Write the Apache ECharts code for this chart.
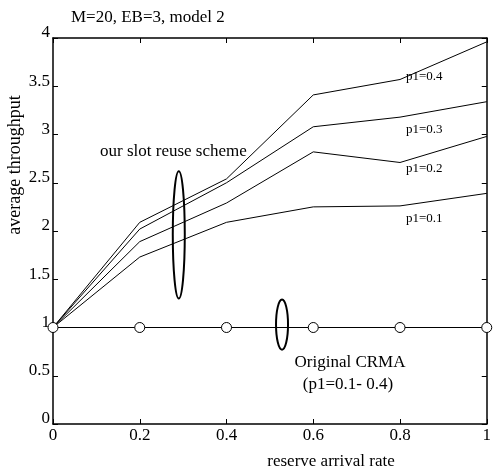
<!DOCTYPE html>
<html>
<head>
<meta charset="utf-8">
<script src="https://cdn.jsdelivr.net/npm/echarts@6/dist/echarts.min.js"></script>
<style>
  html, body { margin: 0; padding: 0; background: #fff; }
  #chart { width: 494px; height: 476px; }
</style>
</head>
<body>
<div id="chart"></div>
<script>
"use strict";
// reserve arrival rate
let xValues = [0, 0.2, 0.4, 0.6, 0.8, 1];
// average throughput, our slot reuse scheme
let p04 = [1, 2.09, 2.54, 3.41, 3.57, 3.96];
let p03 = [1, 2.02, 2.50, 3.08, 3.18, 3.34];
let p02 = [1, 1.89, 2.29, 2.82, 2.71, 2.98];
let p01 = [1, 1.73, 2.09, 2.25, 2.26, 2.39];
// original CRMA (p1=0.1-0.4)
let crma = [1, 1, 1, 1, 1, 1];
// ellipses: [x center, y top, y bottom]
let ellipses = [[0.29, 2.62, 1.30], [0.528, 1.29, 0.77]];

let serif = "Liberation Serif";
let pairs = arr => arr.map((v, i) => [xValues[i], v]);

let lineSeries = (name, arr) => ({
    type: "line",
    name: name,
    data: pairs(arr),
    symbol: "none",
    lineStyle: { color: "#000", width: 1 },
    animation: false,
    z: 3
});

/*box axes: ticks inside on all four sides*/
let boxLine = { show: true, onZero: false, lineStyle: { color: "#000", width: 1.5 } };
let boxTick = { show: true, inside: true, length: 5, lineStyle: { color: "#000" } };

let chart = echarts.init(document.getElementById("chart"));
let option = {
    backgroundColor: "#fff",
    animation: false,
    title: {
        text: "M=20, EB=3, model 2",
        left: 66,
        top: 4,
        textStyle: { fontFamily: serif, fontSize: 17, fontWeight: "normal", color: "#000" }
    },
    grid: { left: 53, right: 5, top: 38, bottom: 52 },
    xAxis: [
        {
            type: "value", min: 0, max: 1, interval: 0.2,
            axisLine: boxLine, axisTick: boxTick,
            axisLabel: { color: "#000", fontFamily: serif, fontSize: 17, margin: 3 },
            splitLine: { show: false }
        },
        {
            type: "value", min: 0, max: 1, interval: 0.2, position: "top",
            axisLine: boxLine, axisTick: boxTick,
            axisLabel: { show: false },
            splitLine: { show: false }
        }
    ],
    yAxis: [
        {
            type: "value", min: 0, max: 4, interval: 0.5,
            axisLine: boxLine, axisTick: boxTick,
            axisLabel: { color: "#000", fontFamily: serif, fontSize: 17, margin: 3,
                         verticalAlign: "bottom", lineHeight: 10 },
            splitLine: { show: false }
        },
        {
            type: "value", min: 0, max: 4, interval: 0.5, position: "right",
            axisLine: boxLine, axisTick: boxTick,
            axisLabel: { show: false },
            splitLine: { show: false }
        }
    ],
    series: [
        lineSeries("p1=0.4", p04),
        lineSeries("p1=0.3", p03),
        lineSeries("p1=0.2", p02),
        lineSeries("p1=0.1", p01),
        {
            type: "line",
            name: "Original CRMA",
            data: pairs(crma),
            symbol: "circle",
            symbolSize: 10,
            showAllSymbol: true,
            itemStyle: { color: "#fff", borderColor: "#000", borderWidth: 1 },
            lineStyle: { color: "#000", width: 1 },
            clip: false,
            animation: false,
            z: 4
        },
        {
            type: "custom",
            name: "ellipses",
            data: ellipses,
            clip: false,
            z: 5,
            renderItem(params, api) {
                let top = api.coord([api.value(0), api.value(1)]);
                let bottom = api.coord([api.value(0), api.value(2)]);
                return {
                    type: "ellipse",
                    shape: {
                        cx: top[0],
                        cy: (top[1] + bottom[1]) / 2,
                        rx: 6,
                        ry: (bottom[1] - top[1]) / 2
                    },
                    style: { fill: null, stroke: "#000", lineWidth: 2 }
                };
            }
        }
    ],
    graphic: [
        { type: "text", x: 15, y: 165, rotation: Math.PI / 2,
          style: { text: "average throughput", font: "18px " + serif, fill: "#000", align: "center", verticalAlign: "middle" } },
        { type: "text", x: 331, y: 462,
          style: { text: "reserve arrival rate", font: "17px " + serif, fill: "#000", align: "center", verticalAlign: "middle" } },
        { type: "text", x: 100, y: 152,
          style: { text: "our slot reuse scheme", font: "17px " + serif, fill: "#000", align: "left", verticalAlign: "middle" } },
        { type: "text", x: 350, y: 363,
          style: { text: "Original CRMA", font: "17px " + serif, fill: "#000", align: "center", verticalAlign: "middle" } },
        { type: "text", x: 348, y: 385,
          style: { text: "(p1=0.1- 0.4)", font: "17px " + serif, fill: "#000", align: "center", verticalAlign: "middle" } },
        { type: "text", x: 406, y: 77,
          style: { text: "p1=0.4", font: "13px " + serif, fill: "#000", align: "left", verticalAlign: "middle" } },
        { type: "text", x: 406, y: 130,
          style: { text: "p1=0.3", font: "13px " + serif, fill: "#000", align: "left", verticalAlign: "middle" } },
        { type: "text", x: 406, y: 169,
          style: { text: "p1=0.2", font: "13px " + serif, fill: "#000", align: "left", verticalAlign: "middle" } },
        { type: "text", x: 406, y: 219,
          style: { text: "p1=0.1", font: "13px " + serif, fill: "#000", align: "left", verticalAlign: "middle" } }
    ]
};
chart.setOption(option);
</script>
</body>
</html>
